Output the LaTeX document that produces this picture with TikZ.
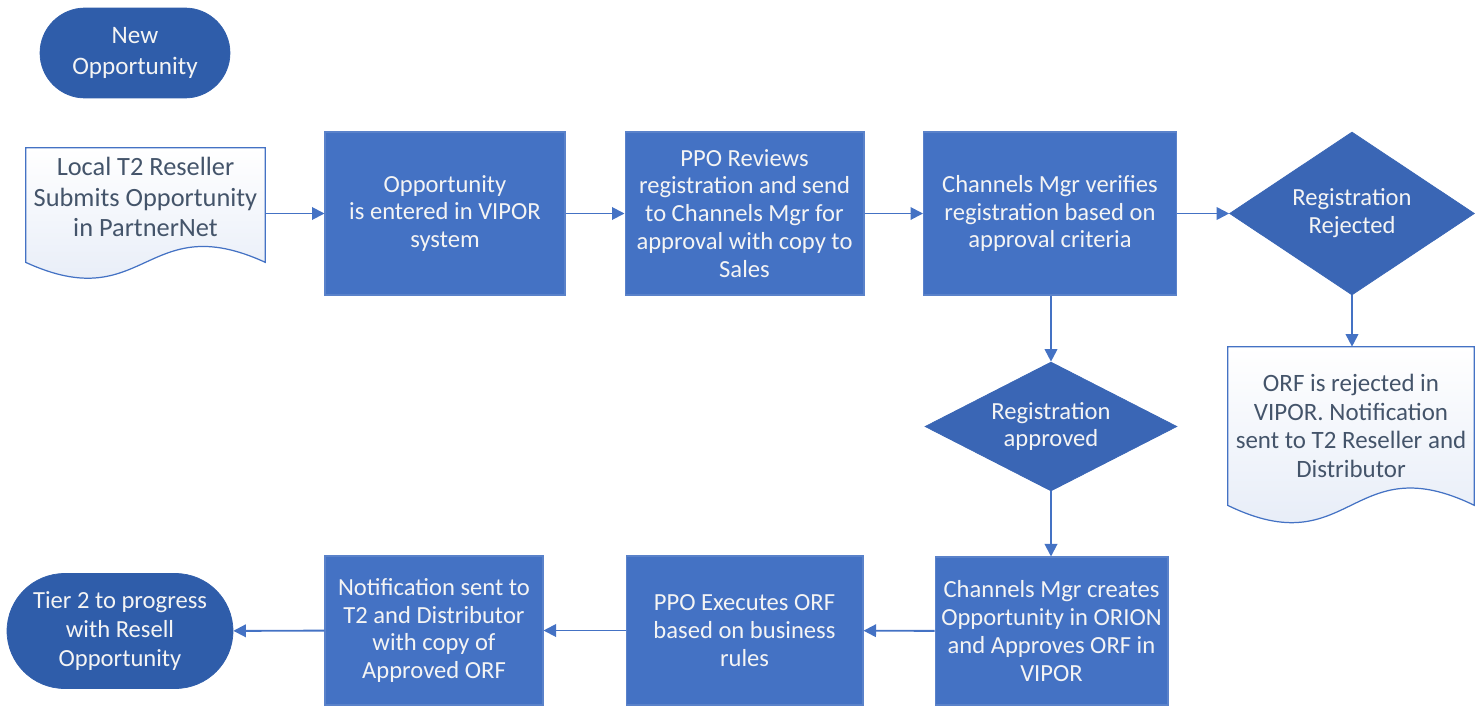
\documentclass[tikz,border=0pt]{standalone}
\usepackage{fontspec}
\setmainfont{Carlito}
\usetikzlibrary{shapes.geometric,shapes.misc,arrows.meta,calc,backgrounds}
\definecolor{boxblue}{HTML}{4472C4}
\definecolor{boxedge}{HTML}{5A82CA}
\definecolor{decblue}{HTML}{3A66B5}
\definecolor{termblue}{HTML}{2F5DAA}
\definecolor{doctxt}{HTML}{44546A}
\definecolor{docfill}{HTML}{E2E9F6}
\definecolor{txtwhite}{HTML}{F4F4F4}
\begin{document}
\begin{tikzpicture}[x=0.02cm,y=-0.02cm,
  proc/.style={rectangle, fill=boxblue, draw=boxedge, line width=0.6pt, text=txtwhite, align=center, inner sep=0pt, font=\fontsize{14}{15.9}\selectfont},
  term/.style={rounded rectangle, fill=termblue, draw=termblue, text=txtwhite, align=center, inner sep=0pt},
  dec/.style={diamond, aspect=2, fill=decblue, draw=decblue, text=txtwhite, align=center, inner sep=0pt, font=\fontsize{14}{15.9}\selectfont},
  doctextnode/.style={rectangle, inner sep=0pt, text=doctxt, align=center},
  docshape/.style={draw=boxblue, line width=0.7pt, top color=white, bottom color=docfill},
  arr/.style={draw=boxblue, line width=1.1pt, -{Triangle[length=0.25cm,width=0.25cm]}}
]
\useasboundingbox (0,0) rectangle (1482,707);

% terminals
\node[term, minimum width=3.8cm, minimum height=1.8cm, font=\fontsize{14.3}{18.1}\selectfont] (newopp) at (135,53) {New\\Opportunity};
\node[term, minimum width=4.52cm, minimum height=2.3cm, font=\fontsize{14}{16.4}\selectfont] (tier2) at (120,631) {Tier 2 to progress\\with Resell\\Opportunity};

% documents
\node[doctextnode, minimum width=4.78cm, minimum height=1.96cm, font=\fontsize{15}{17.6}\selectfont] (doc1) at (145.5,197) {Local T2 Reseller\\Submits Opportunity\\in PartnerNet};
\node[doctextnode, minimum width=4.92cm, minimum height=3.16cm, font=\fontsize{14.2}{16.4}\selectfont] (docrej) at (1351,426) {ORF is rejected in\\VIPOR. Notification\\sent to T2 Reseller and\\Distributor};
\begin{scope}[on background layer]
  \path[docshape] (doc1.north west) -- (doc1.north east) -- ($(doc1.south east)+(0,16)$)
    .. controls ($(doc1.south)+(0,16-55)$) and ($(doc1.south)+(0,16+55)$) .. ($(doc1.south west)+(0,16)$) -- cycle;
  \path[docshape] (docrej.north west) -- (docrej.north east) -- (docrej.south east)
    .. controls ($(docrej.south)+(0,-60)$) and ($(docrej.south)+(0,60)$) .. (docrej.south west) -- cycle;
\end{scope}

% process boxes, top row
\node[proc, minimum width=4.8cm, minimum height=3.26cm] (box1) at (445,213.5) {Opportunity\\is entered in VIPOR\\system};
\node[proc, minimum width=4.78cm, minimum height=3.26cm] (box2) at (744.5,213.5) {PPO Reviews\\registration and send\\to Channels Mgr for\\approval with copy to\\Sales};
\node[proc, minimum width=5.06cm, minimum height=3.26cm] (box3) at (1050,213.5) {Channels Mgr verifies\\registration based on\\approval criteria};

% decisions
\node[dec, minimum width=4.9cm, minimum height=3.26cm] (drej) at (1352,213.5) {Registration\\Rejected};
\node[dec, minimum width=5.04cm, minimum height=2.58cm] (dapp) at (1051,426.5) {Registration\\approved};

% process boxes, bottom row
\node[proc, minimum width=4.66cm, minimum height=2.96cm] (boxc) at (1051.5,631) {Channels Mgr creates\\Opportunity in ORION\\and Approves ORF in\\VIPOR};
\node[proc, minimum width=4.74cm, minimum height=2.98cm] (boxe) at (744.5,630.5) {PPO Executes ORF\\based on business\\rules};
\node[proc, minimum width=4.36cm, minimum height=2.98cm] (boxn) at (434,630.5) {Notification sent to\\T2 and Distributor\\with copy of\\Approved ORF};

% connectors
\draw[arr] (doc1.east |- box1.west) -- (box1.west);
\draw[arr] (box1) -- (box2);
\draw[arr] (box2) -- (box3);
\draw[arr] (box3) -- (drej);
\draw[arr] (drej) -- (docrej.north -| drej.south);
\draw[arr] (box3.south -| dapp.north) -- (dapp.north);
\draw[arr] (dapp.south) -- (boxc.north -| dapp.south);
\draw[arr] (boxc) -- (boxe);
\draw[arr] (boxe) -- (boxn);
\draw[arr] (boxn) -- (tier2);
\end{tikzpicture}
\end{document}
